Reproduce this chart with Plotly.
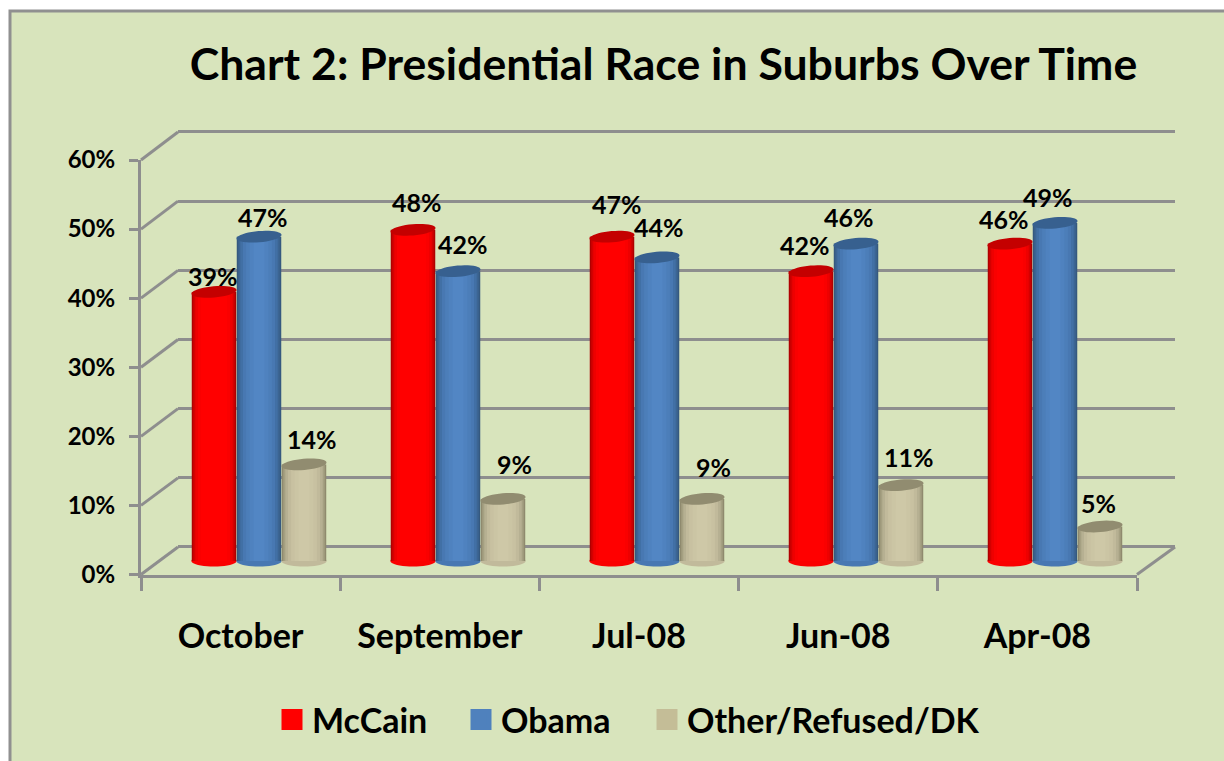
import math
import plotly.graph_objects as go

W, H = 1224, 761

# ---- data ----
categories = ["October", "September", "Jul-08", "Jun-08", "Apr-08"]
mccain = [39, 48, 47, 42, 46]
obama = [47, 42, 44, 46, 49]
other = [14, 9, 9, 11, 5]
series_names = ["McCain", "Obama", "Other/Refused/DK"]
y_ticks = [0, 10, 20, 30, 40, 50, 60]
title_text = "Chart 2: Presidential Race in Suburbs Over Time"

# ---- styling ----
FONT = "Lato"
BG = "#d8e4bc"
GRID = "#8e8e8e"
RAMPS = [
    ["#b00000", "#d40000", "#ee0000", "#fa0000", "#ff0000", "#ff0000", "#ff0000"],
    ["#35597f", "#3c6593", "#4270a5", "#4878b2", "#4c7eb9", "#4f82bf", "#5286c4"],
    ["#8f8a6e", "#a5a082", "#b6b092", "#c1ba9b", "#c8c1a1", "#cbc5a4", "#cec8a7"],
]
CAPS = ["#c40000", "#37608f", "#918c70"]
LEGEND_COL = ["#ff0000", "#4f81bd", "#c4bd97"]
LAYER_FRAC = [1.0, 0.93, 0.84, 0.72, 0.58, 0.42, 0.24]

# pixel frames of the three planes
FRONT = dict(x0=141, x1=1137, y0=574.5, y60=160)
BACK = dict(x0=178, x1=1175, y0=547, y60=132)
BARS = dict(x0=159.5, x1=1154.5, y0=561, y60=147)
PAD = 5  # value units added beyond 0-60 on the wall and cylinder planes

px = lambda v: v / W
py = lambda v: (H - v) / H


def pad_domain(frame):
    unit = (frame["y0"] - frame["y60"]) / 60
    return [py(frame["y0"] + PAD * unit), py(frame["y60"] - PAD * unit)]


BAR_STEP = 45.0 / 199   # category units between series
BAR_W = 44.5 / 199
x_per_px = 5 / (BARS["x1"] - BARS["x0"])
y_per_px = 60 / (BARS["y0"] - BARS["y60"])

# label offsets in pixels relative to the cylinder top (dx, dy)
LABEL_SHIFT = [
    [(-1, 16), (4, 28), (5, 33), (-6, 26), (-6, 25)],
    [(3.5, 20), (5, 27), (2, 30), (-7, 27), (-7, 26)],
    [(8, 25), (11, 35), (11, 32), (8, 28), (-2, 24)],
]

fig = go.Figure()

# back wall (first subplot, so it sits under everything)
fig.add_trace(go.Scatter(x=[0], y=[0], xaxis="x", yaxis="y", mode="markers",
                         marker=dict(opacity=0), showlegend=False, hoverinfo="skip"))
# front axes
fig.add_trace(go.Scatter(x=categories, y=[0] * len(categories), xaxis="x2", yaxis="y2",
                         mode="markers", marker=dict(opacity=0), showlegend=False, hoverinfo="skip"))

shapes = []
annotations = []

# chart panel
shapes.append(dict(type="rect", xref="paper", yref="paper", x0=px(10), x1=1.02, y0=-0.02, y1=py(11),
                   fillcolor=BG, line=dict(color="#909090", width=3), layer="below"))

# perspective connectors
for t in y_ticks:
    f = FRONT["y0"] + (FRONT["y60"] - FRONT["y0"]) * t / 60
    b = BACK["y0"] + (BACK["y60"] - BACK["y0"]) * t / 60
    shapes.append(dict(type="line", xref="paper", yref="paper", layer="below",
                       x0=px(FRONT["x0"]), y0=py(f), x1=px(BACK["x0"]), y1=py(b),
                       line=dict(color=GRID, width=3)))
shapes.append(dict(type="line", xref="paper", yref="paper", layer="below",
                   x0=px(FRONT["x1"]), y0=py(FRONT["y0"]), x1=px(BACK["x1"]), y1=py(BACK["y0"]),
                   line=dict(color=GRID, width=3)))


def ellipse_path(cx, cy, rx_px=22.6, ry_px=5.6, tilt_deg=-5.0, n=40):
    t = math.radians(tilt_deg)
    pts = []
    for k in range(n):
        a = 2 * math.pi * k / n
        dx = rx_px * math.cos(a) * math.cos(t) - ry_px * math.sin(a) * math.sin(t)
        dy = rx_px * math.cos(a) * math.sin(t) + ry_px * math.sin(a) * math.cos(t)
        pts.append((cx + dx * x_per_px, cy - dy * y_per_px))
    return "M " + " L ".join(f"{a:.5f},{b:.4f}" for a, b in pts) + " Z"


# cylinders
for s, values in enumerate([mccain, obama, other]):
    xs = [i + (s - 1) * BAR_STEP for i in range(len(values))]
    for frac, col in zip(LAYER_FRAC, RAMPS[s]):
        fig.add_trace(go.Bar(x=xs, y=values, width=BAR_W * frac, marker=dict(color=col, line=dict(width=0)),
                             xaxis="x3", yaxis="y3", showlegend=False, hoverinfo="skip"))
    for i, (x, v) in enumerate(zip(xs, values)):
        shapes.append(dict(type="path", xref="x3", yref="y3", layer="between",
                           path=ellipse_path(x, 0, tilt_deg=0),
                           fillcolor=RAMPS[s][3], line=dict(width=0)))
        shapes.append(dict(type="path", xref="x3", yref="y3", layer="above",
                           path=ellipse_path(x, v), fillcolor=CAPS[s], line=dict(width=0)))
        dx, dy = LABEL_SHIFT[s][i]
        annotations.append(dict(x=x, y=v, xref="x3", yref="y3", text=f"<b>{v}%</b>", showarrow=False,
                                xshift=dx, yshift=dy, font=dict(family=FONT, size=25, color="black")))

# legend entries, one legend each so every entry can be placed
legend_names = ["legend", "legend2", "legend3"]
legend_left = [281, 470, 656]
layout_legends = {}
for s, name in enumerate(series_names):
    fig.add_trace(go.Scatter(x=[None], y=[None], xaxis="x", yaxis="y", mode="markers", name=name,
                             legend=legend_names[s],
                             marker=dict(symbol="square", size=16, color=LEGEND_COL[s],
                                         line=dict(color=LEGEND_COL[s], width=5))))
    layout_legends[legend_names[s]] = dict(
        x=px(legend_left[s] - 9), xanchor="left", y=py(720), yanchor="middle",
        bgcolor="rgba(0,0,0,0)", borderwidth=0, itemclick=False, itemdoubleclick=False,
        font=dict(family=FONT, size=34, color="black", weight=700), itemwidth=30)

axis_font = dict(family=FONT, size=24, color="black", weight=700)

fig.update_layout(
    width=W, height=H, margin=dict(l=0, r=0, t=0, b=0, pad=0, autoexpand=False), autosize=False,
    paper_bgcolor="white", plot_bgcolor="rgba(0,0,0,0)", barmode="overlay",
    showlegend=True, shapes=shapes, annotations=annotations,
    title=dict(text=title_text, x=px(663.5), xref="paper", xanchor="center",
               y=py(64), yref="paper", yanchor="middle",
               font=dict(family=FONT, size=44.6, color="black", weight=700)),
    # back wall
    xaxis=dict(domain=[px(BACK["x0"]), px(BACK["x1"])], range=[0, 5], visible=False, anchor="y"),
    yaxis=dict(domain=pad_domain(BACK), range=[-PAD, 60 + PAD], tickvals=y_ticks, showgrid=True,
               gridcolor=GRID, gridwidth=3, zeroline=False, showline=False, showticklabels=False,
               ticks="", anchor="x"),
    # front axes
    xaxis2=dict(domain=[px(FRONT["x0"]), px(FRONT["x1"])], range=[-0.5, 4.5], type="category",
                categoryorder="array", categoryarray=categories, tickson="boundaries", ticks="outside",
                ticklen=13, tickwidth=3, tickcolor=GRID, showline=True, linecolor=GRID, linewidth=3,
                showgrid=False, zeroline=False, anchor="y2", ticklabelstandoff=30,
                tickfont=dict(family=FONT, size=34, color="black", weight=700)),
    yaxis2=dict(domain=[py(FRONT["y0"]), py(FRONT["y60"])], range=[0, 60], tickvals=y_ticks,
                ticktext=[f"{t}%" for t in y_ticks], ticks="outside", ticklen=9, tickwidth=3, tickcolor=GRID,
                showline=True, linecolor=GRID, linewidth=3, showgrid=False, zeroline=False,
                anchor="x2", ticklabelstandoff=9, tickfont=axis_font),
    # cylinder plane
    xaxis3=dict(domain=[px(BARS["x0"]), px(BARS["x1"])], range=[-0.5, 4.5], visible=False, anchor="y3"),
    yaxis3=dict(domain=pad_domain(BARS), range=[-PAD, 60 + PAD], visible=False, anchor="x3"),
    **layout_legends,
)

fig.write_html("out.html", config=dict(displayModeBar=False),
               post_script="document.body.style.margin='0';document.body.style.overflow='hidden';")
